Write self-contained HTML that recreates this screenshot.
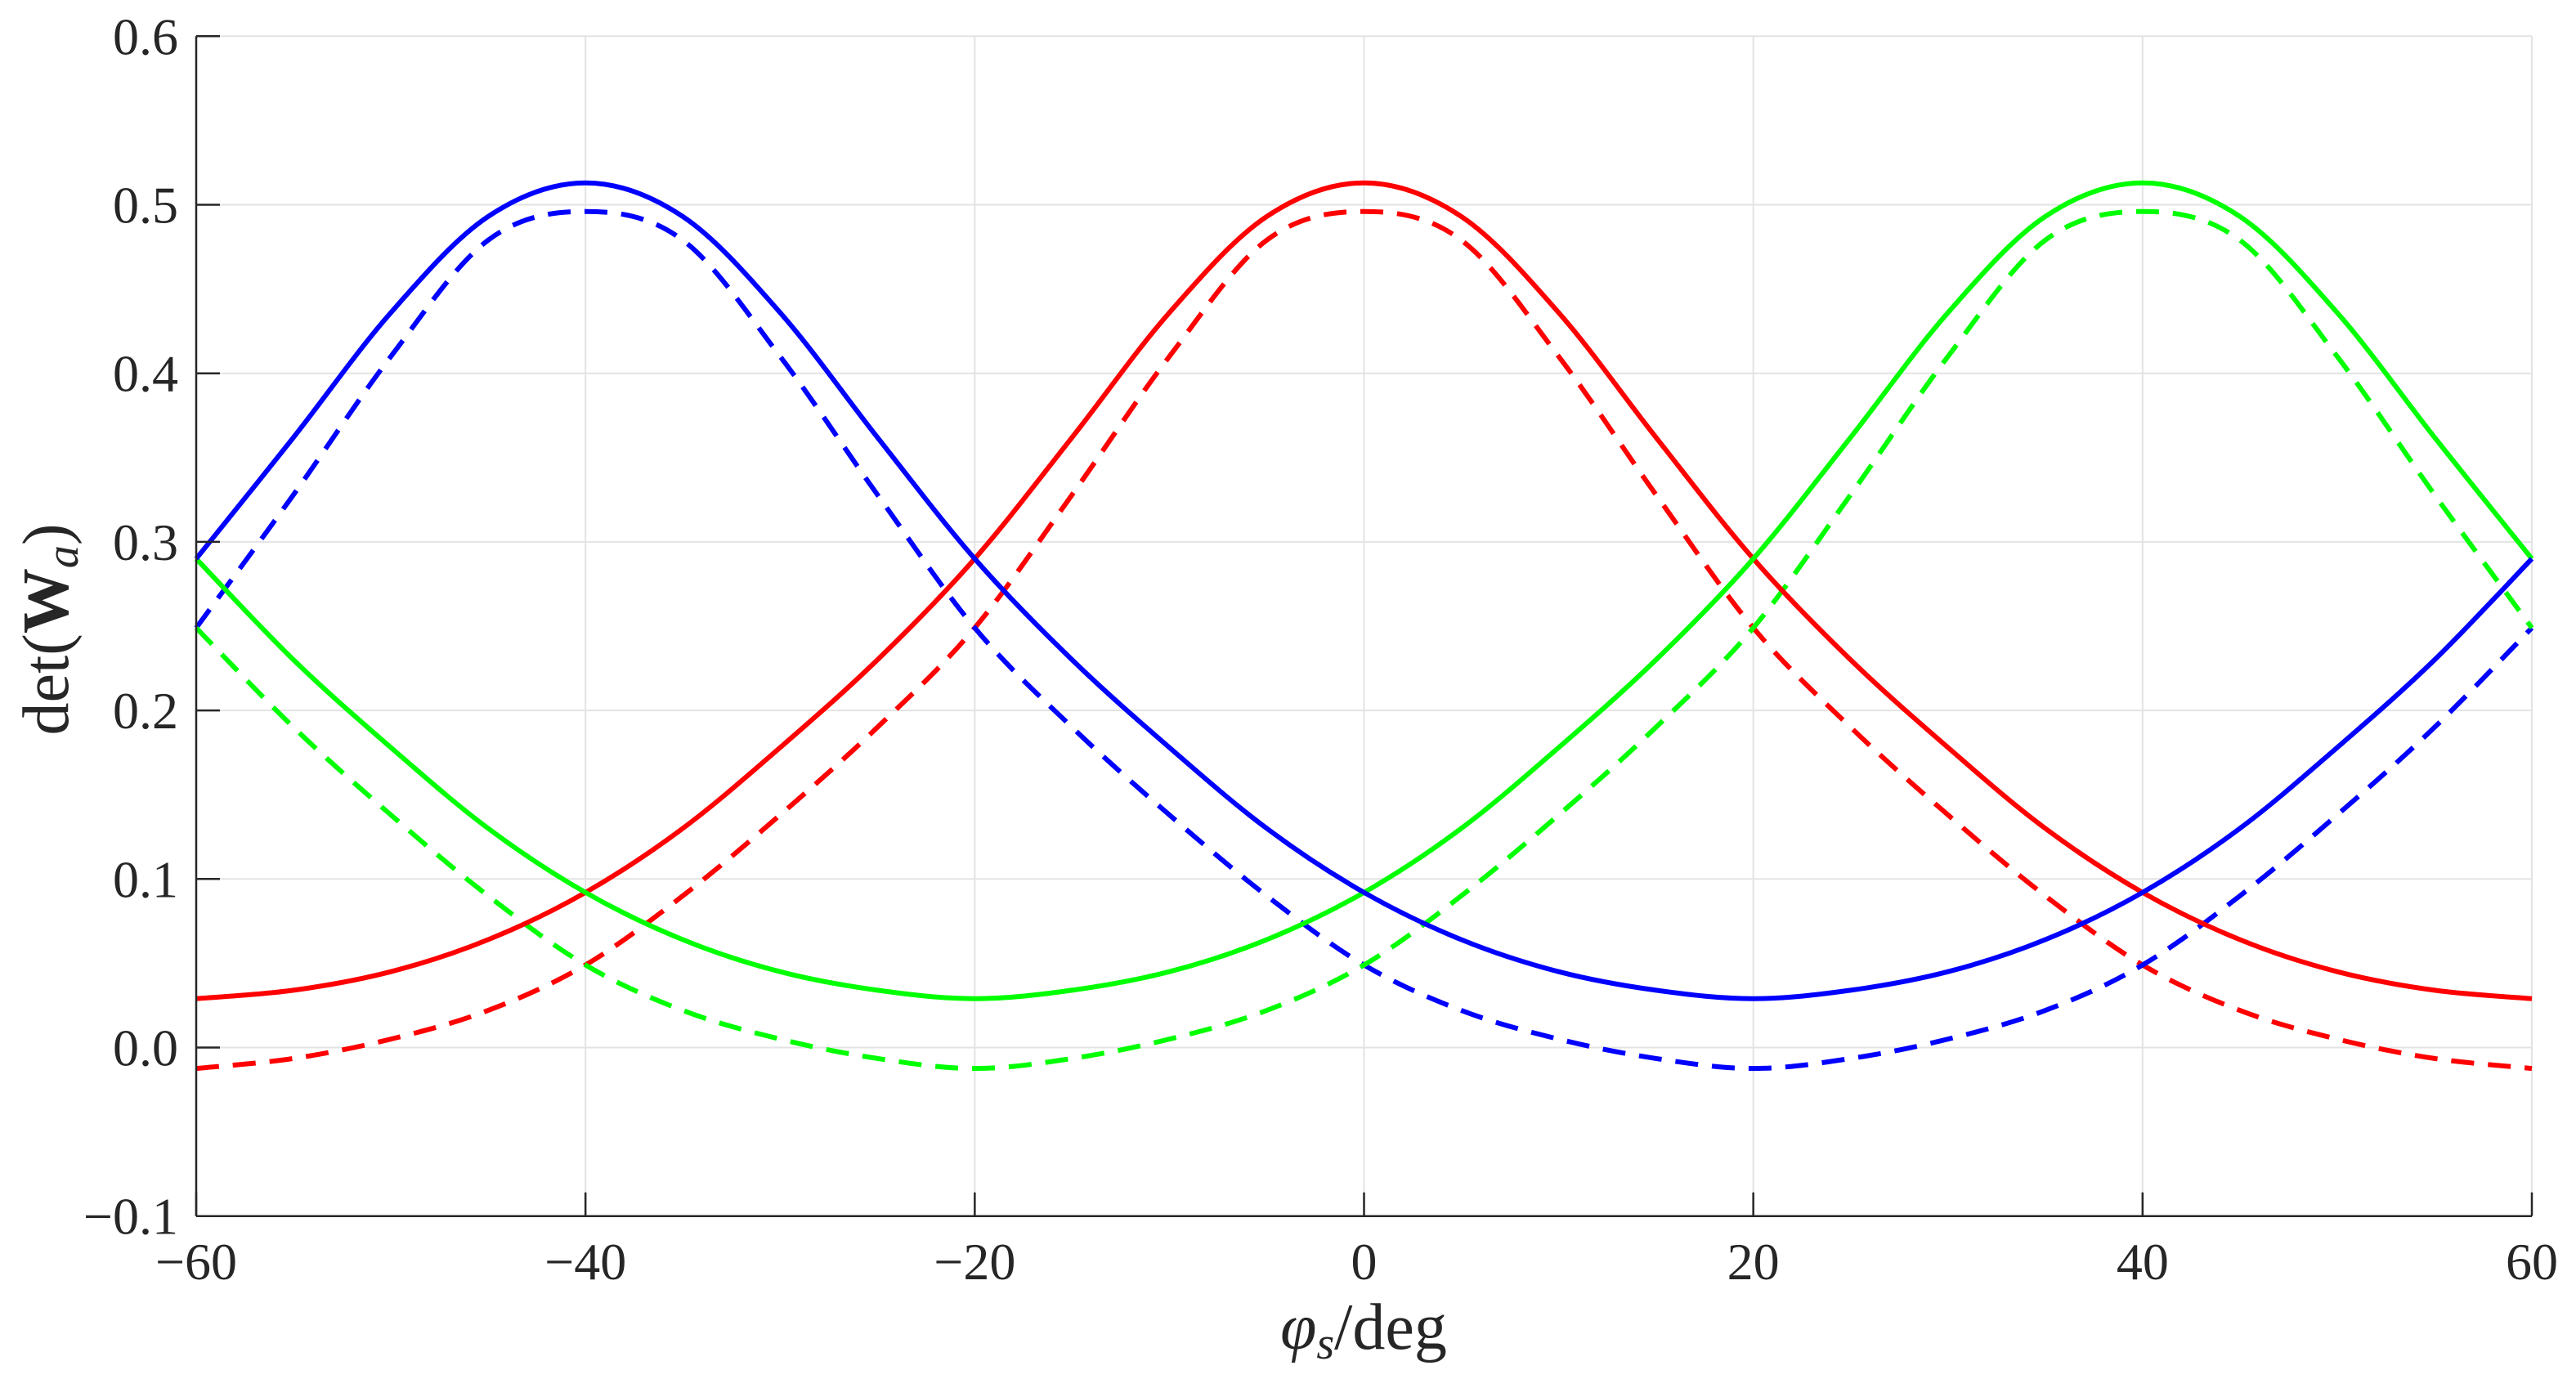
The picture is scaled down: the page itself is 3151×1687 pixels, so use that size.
<!DOCTYPE html>
<html><head><meta charset="utf-8"><style>
html,body{margin:0;padding:0;background:#fff;}
svg{display:block;}
svg text{font-family:"Liberation Serif","Times New Roman","DejaVu Serif",serif;fill:#262626;}
</style></head><body>
<svg id="chart" width="3151" height="1687" viewBox="0 0 3151 1687" xmlns="http://www.w3.org/2000/svg">
<g id="grid"></g>
<g id="series"></g>
<g id="axes"></g>
<text x="1668" y="1650" font-size="80" font-family="Liberation Serif, serif" text-anchor="middle"><tspan font-style="italic">φ</tspan><tspan font-style="italic" font-size="56" dy="12">s</tspan><tspan dy="-12">/deg</tspan></text>
<text transform="translate(83,770) rotate(-90)" font-size="80" font-family="Liberation Serif, serif" text-anchor="middle">det(<tspan font-weight="bold">W</tspan><tspan font-style="italic" font-size="56" dy="12">a</tspan><tspan dy="-12">)</tspan></text>
</svg>
<script>
const xValues = [-60,-55,-50,-45,-40,-35,-30,-25,-20,-15,-10,-5,0,5,10,15,20,25,30,35,40,45,50,55,60];
const redSolid = [0.029,0.034,0.045,0.064,0.092,0.130,0.178,0.230,0.290,0.362,0.436,0.493,0.513,0.493,0.436,0.362,0.290,0.230,0.178,0.130,0.092,0.064,0.045,0.034,0.029];
const redDashed = [-0.0124,-0.0065,0.005,0.022,0.049,0.090,0.138,0.190,0.249,0.328,0.410,0.479,0.496,0.479,0.410,0.328,0.249,0.190,0.138,0.090,0.049,0.022,0.005,-0.0065,-0.0124];
const blueSolid = [0.290,0.362,0.436,0.493,0.513,0.493,0.436,0.362,0.290,0.230,0.178,0.130,0.092,0.064,0.045,0.034,0.029,0.034,0.045,0.064,0.092,0.130,0.178,0.230,0.290];
const blueDashed = [0.249,0.328,0.410,0.479,0.496,0.479,0.410,0.328,0.249,0.190,0.138,0.090,0.049,0.022,0.005,-0.0065,-0.0124,-0.0065,0.005,0.022,0.049,0.090,0.138,0.190,0.249];
const greenSolid = [0.290,0.230,0.178,0.130,0.092,0.064,0.045,0.034,0.029,0.034,0.045,0.064,0.092,0.130,0.178,0.230,0.290,0.362,0.436,0.493,0.513,0.493,0.436,0.362,0.290];
const greenDashed = [0.249,0.190,0.138,0.090,0.049,0.022,0.005,-0.0065,-0.0124,-0.0065,0.005,0.022,0.049,0.090,0.138,0.190,0.249,0.328,0.410,0.479,0.496,0.479,0.410,0.328,0.249];
const xTicks = [-60,-40,-20,0,20,40,60];
const xTickLabels = ["\u221260","\u221240","\u221220","0","20","40","60"];
const yTicks = [-0.1,0,0.1,0.2,0.3,0.4,0.5,0.6];
const yTickLabels = ["\u22120.1","0.0","0.1","0.2","0.3","0.4","0.5","0.6"];

const L=240,R=3097,T=44.3,B=1487.7;
const X0=-60,X1=60,Y0=-0.1,Y1=0.6;
function sx(v){return L+(v-X0)/(X1-X0)*(R-L);}
function sy(v){return B-(v-Y0)/(Y1-Y0)*(B-T);}
const NS='http://www.w3.org/2000/svg';
function mk(tag,attrs,parent){const e=document.createElementNS(NS,tag);for(const k in attrs)e.setAttribute(k,attrs[k]);parent.appendChild(e);return e;}
const grid=document.getElementById('grid'),axes=document.getElementById('axes'),ser=document.getElementById('series');

xTicks.forEach((t,i)=>{
  const g=mk('line',{x1:sx(t),x2:sx(t),y1:T,y2:B,stroke:'#e3e3e3','stroke-width':2},grid);
  
  
  const tk=mk('line',{x1:sx(t),x2:sx(t),y1:B,y2:B-29,stroke:'#262626','stroke-width':2.5},axes);
  
  
  const lb=mk('text',{x:sx(t),y:1565,'font-size':64,'text-anchor':'middle','font-family':'Liberation Serif, serif'},axes);
  lb.textContent=xTickLabels[i];
  
  
});
yTicks.forEach((t,i)=>{
  const g=mk('line',{x1:L,x2:R,y1:sy(t),y2:sy(t),stroke:'#e3e3e3','stroke-width':2},grid);
  
  
  const tk=mk('line',{x1:L,x2:L+29,y1:sy(t),y2:sy(t),stroke:'#262626','stroke-width':2.5},axes);
  
  
  const lb=mk('text',{x:218,y:sy(t)+22,'font-size':64,'text-anchor':'end','font-family':'Liberation Serif, serif'},axes);
  lb.textContent=yTickLabels[i];
  
  
});
const ax1=mk('line',{x1:L,x2:L,y1:T,y2:B,stroke:'#262626','stroke-width':2.5},axes);


const ax2=mk('line',{x1:L,x2:R,y1:B,y2:B,stroke:'#262626','stroke-width':2.5},axes);



function pathFor(ys){
  const p=xValues.map((x,i)=>[sx(x),sy(ys[i])]);
  let d='M'+p[0][0].toFixed(1)+','+p[0][1].toFixed(1);
  for(let i=0;i<p.length-1;i++){
    const p0=p[Math.max(0,i-1)],p1=p[i],p2=p[i+1],p3=p[Math.min(p.length-1,i+2)];
    const c1=[p1[0]+(p2[0]-p0[0])/6,p1[1]+(p2[1]-p0[1])/6];
    const c2=[p2[0]-(p3[0]-p1[0])/6,p2[1]-(p3[1]-p1[1])/6];
    d+=' C'+c1[0].toFixed(1)+','+c1[1].toFixed(1)+' '+c2[0].toFixed(1)+','+c2[1].toFixed(1)+' '+p2[0].toFixed(1)+','+p2[1].toFixed(1);
  }
  return d;
}
const defs=[
 [redDashed,'#ff0000',true,'red-dashed-line'],
 [blueDashed,'#0000ff',true,'blue-dashed-line'],
 [greenDashed,'#00ff00',true,'green-dashed-line'],
 [redSolid,'#ff0000',false,'red-solid-line'],
 [greenSolid,'#00ff00',false,'green-solid-line'],
 [blueSolid,'#0000ff',false,'blue-solid-line']
];
defs.forEach(s=>{
  const a={d:pathFor(s[0]),fill:'none',stroke:s[1],'stroke-width':6,'stroke-linejoin':'round'};
  if(s[2])a['stroke-dasharray']='28 17';
  const e=mk('path',a,ser);
  
  
});
</script>
</body></html>
